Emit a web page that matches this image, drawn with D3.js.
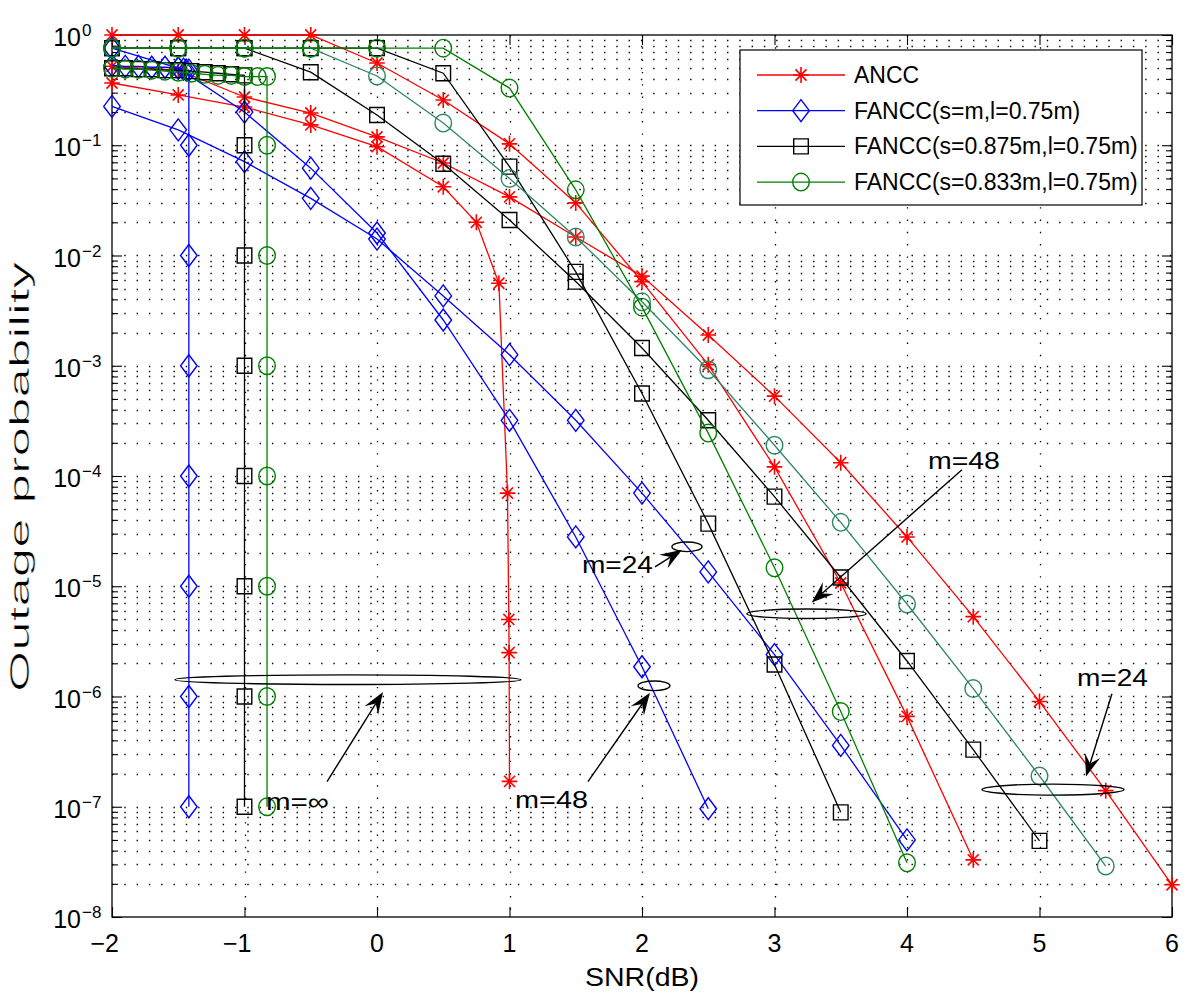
<!DOCTYPE html>
<html><head><meta charset="utf-8">
<script src="https://cdn.jsdelivr.net/npm/d3@7"></script>
<style>
body{margin:0;background:#fff;}
text{font-family:"Liberation Sans",Arial,Helvetica,sans-serif;fill:#000;}
</style>
</head><body>
<svg id="c" width="1200" height="1008"></svg>
<script>
// ---------------- DATA ----------------
const xTickValues = [-2,-1,0,1,2,3,4,5,6];
const xTickLabels = ["\u22122","\u22121","0","1","2","3","4","5","6"];
const yDecadeExps = [0,-1,-2,-3,-4,-5,-6,-7,-8];
const legendNames = ["ANCC","FANCC(s=m,l=0.75m)","FANCC(s=0.875m,l=0.75m)","FANCC(s=0.833m,l=0.75m)"];

// ANCC
const anccInfX = [-2,-1.5,-1,-0.5,0,0.5,0.75,0.92,0.985,0.995,0.997,1.0];
const anccInfY = [0.367,0.286,0.222,0.153,0.097,0.042,0.020,0.0056,7e-5,5e-6,2.5e-6,1.7e-7];
const ancc24X = [-2,-1.5,-1,-0.5,0,0.5,1,1.5,2,2.5,3,3.5,4,4.5,5,5.5,6];
const ancc24Y = [0.52,0.48,0.274,0.196,0.119,0.069,0.034,0.0147,0.0065,0.0019,5.3e-4,1.32e-4,2.8e-5,5.3e-6,9.0e-7,1.4e-7,1.96e-8];
const ancc48X = [-2,-1.5,-1,-0.5,0,0.5,1,1.5,2,2.5,3,3.5,4,4.5];
const ancc48Y = [1,1,1,1,0.557,0.257,0.103,0.030,0.0058,1.02e-3,1.21e-4,1.07e-5,6.6e-7,3.3e-8];

// FANCC(s=m,l=0.75m)
const fmInfX = [-2,-1.9,-1.8,-1.7,-1.6,-1.5,-1.46,-1.44,-1.42,-1.42,-1.42,-1.42,-1.42,-1.42,-1.42,-1.42];
const fmInfY = [0.53,0.52,0.52,0.51,0.51,0.50,0.49,0.48,0.48,0.1,0.01,1e-3,1e-4,1e-5,1e-6,1e-7];
const fm24X = [-2,-1.5,-1,-0.5,0,0.5,1,1.5,2,2.5,3,3.5,4];
const fm24Y = [0.225,0.138,0.071,0.033,0.0141,0.0043,1.26e-3,3.2e-4,7.0e-5,1.35e-5,2.4e-6,3.6e-7,5.0e-8];
const fm48X = [-2,-1.5,-1,-0.5,0,0.5,1,1.5,2,2.5];
const fm48Y = [0.76,0.50,0.20,0.062,0.016,0.0026,3.2e-4,2.8e-5,1.86e-6,9.6e-8];

// FANCC(s=0.875m,l=0.75m)
const f875InfX = [-2,-1.9,-1.8,-1.7,-1.6,-1.5,-1.4,-1.3,-1.2,-1.1,-1,-1,-1,-1,-1,-1,-1,-1];
const f875InfY = [0.50,0.50,0.49,0.49,0.48,0.48,0.47,0.46,0.45,0.44,0.43,0.1,0.01,1e-3,1e-4,1e-5,1e-6,1e-7];
const f875_24X = [-2,-1.5,-1,-0.5,0,0.5,1,1.5,2,2.5,3,3.5,4,4.5,5];
const f875_24Y = [0.76,0.76,0.76,0.46,0.188,0.068,0.021,0.0058,1.45e-3,3.2e-4,6.5e-5,1.2e-5,2.1e-6,3.3e-7,4.9e-8];
const f875_48X = [-2,-1.5,-1,-0.5,0,0.5,1,1.5,2,2.5,3,3.5];
const f875_48Y = [0.76,0.76,0.76,0.76,0.76,0.45,0.064,0.0071,5.6e-4,3.7e-5,1.95e-6,8.9e-8];

// FANCC(s=0.833m,l=0.75m)
const f833InfX = [-2,-1.9,-1.8,-1.7,-1.6,-1.5,-1.4,-1.3,-1.2,-1.1,-1,-0.9,-0.83,-0.83,-0.83,-0.83,-0.83,-0.83,-0.83,-0.83];
const f833InfY = [0.50,0.49,0.49,0.48,0.47,0.46,0.45,0.44,0.43,0.43,0.42,0.42,0.42,0.1,0.01,1e-3,1e-4,1e-5,1e-6,1e-7];
const f833_24X = [-2,-1.5,-1,-0.5,0,0.5,1,1.5,2,2.5,3,3.5,4,4.5,5,5.5];
const f833_24Y = [0.76,0.76,0.76,0.76,0.425,0.159,0.050,0.0147,3.8e-3,9.2e-4,1.9e-4,3.8e-5,6.9e-6,1.18e-6,1.9e-7,2.9e-8];
const f833_48X = [-2,-1.5,-1,-0.5,0,0.5,1,1.5,2,2.5,3,3.5,4];
const f833_48Y = [0.76,0.76,0.76,0.76,0.76,0.76,0.33,0.0394,3.4e-3,2.45e-4,1.47e-5,7.3e-7,3.1e-8];

// annotations (data coordinates)
const annEllipseX0 = [-1.525, 2.226, 1.970, 2.792, 4.566];
const annEllipseX1 = [1.087, 2.453, 2.211, 3.691, 5.638];
const annEllipseY  = [1.42e-6, 2.28e-5, 1.25e-6, 5.63e-6, 1.43e-7];
const annArrowTail = [[-0.377,1.69e-7],[2.098,1.50e-5],[1.592,1.69e-7],[4.415,1.14e-4],[5.547,1.06e-6]];
const annArrowHead = [[0.045,1.10e-6],[2.302,2.14e-5],[2.060,1.08e-6],[3.281,7.13e-6],[5.351,1.88e-7]];
const annTexts = ["m=\u221e","m=24","m=48","m=48","m=24"];
const annTextPos = [[-0.838,9.4e-8],[1.547,1.32e-5],[1.042,9.8e-8],[4.158,1.16e-4],[5.283,1.25e-6]];

// ---------------- CHART ----------------
const L=112, R=1172, T=35, B=917;
const x = d3.scaleLinear().domain([-2,6]).range([L,R]);
const y = d3.scaleLog().domain([1e-8,1]).range([B,T]);
const svg = d3.select("#c");

const minorVals = [];
yDecadeExps.forEach(e=>{ if(e>-8){ for(let k=2;k<=9;k++) minorVals.push(k*Math.pow(10,e-1)); }});
const decadeVals = yDecadeExps.map(e=>Math.pow(10,e));

// grid
const grid = svg.append("g");
grid.selectAll("line.h").data(minorVals.concat(decadeVals.filter(v=>v<1 && v>1e-8))).join("line")
  .attr("x1",L).attr("x2",R).attr("y1",d=>Math.round(y(d))+0.5).attr("y2",d=>Math.round(y(d))+0.5)
  .attr("stroke","#000").attr("stroke-width",1.3).attr("stroke-dasharray","1.4,10.9");
grid.selectAll("line.v").data(xTickValues.filter(v=>v>-2&&v<6)).join("line")
  .attr("y1",T).attr("y2",B).attr("x1",d=>Math.round(x(d))+0.5).attr("x2",d=>Math.round(x(d))+0.5)
  .attr("stroke","#000").attr("stroke-width",1.3).attr("stroke-dasharray","1.4,10.9");

// axes ticks
function styleAxis(g){ g.select(".domain").remove(); g.selectAll(".tick line").attr("stroke","#000").attr("stroke-width",1.1); g.selectAll(".tick text").remove(); }
svg.append("g").attr("transform",`translate(${L},0)`).call(d3.axisLeft(y).tickValues(decadeVals).tickSize(-10).tickSizeOuter(0)).call(styleAxis);
svg.append("g").attr("transform",`translate(${L},0)`).call(d3.axisLeft(y).tickValues(minorVals).tickSize(-6).tickSizeOuter(0)).call(styleAxis);
svg.append("g").attr("transform",`translate(${R},0)`).call(d3.axisRight(y).tickValues(decadeVals).tickSize(-10).tickSizeOuter(0)).call(styleAxis);
svg.append("g").attr("transform",`translate(${R},0)`).call(d3.axisRight(y).tickValues(minorVals).tickSize(-6).tickSizeOuter(0)).call(styleAxis);
svg.append("g").attr("transform",`translate(0,${B})`).call(d3.axisBottom(x).tickValues(xTickValues).tickSize(-10).tickSizeOuter(0)).call(styleAxis);
svg.append("g").attr("transform",`translate(0,${T})`).call(d3.axisTop(x).tickValues(xTickValues).tickSize(-10).tickSizeOuter(0)).call(styleAxis);

// frame
svg.append("rect").attr("x",L).attr("y",T).attr("width",R-L).attr("height",B-T)
  .attr("fill","none").attr("stroke","#000").attr("stroke-width",1.3);

// tick labels
const yl = svg.append("g");
yDecadeExps.forEach(e=>{
  const ty = y(Math.pow(10,e));
  yl.append("text").attr("x",81).attr("y",ty+11).attr("text-anchor","end").attr("font-size",25).text("10");
  yl.append("text").attr("x",82).attr("y",ty+1).attr("font-size",17).text(e===0?"0":"\u2212"+(-e));
});
xTickValues.forEach((v,i)=>{
  svg.append("text").attr("x",x(v)+7).attr("y",B+35).attr("text-anchor","end").attr("font-size",25).text(xTickLabels[i]);
});
svg.append("text").attr("x",x(2)).attr("y",986).attr("text-anchor","middle").attr("font-size",26)
  .attr("textLength",114).attr("lengthAdjust","spacingAndGlyphs").text("SNR(dB)");
svg.append("text").attr("transform","translate(29,477) rotate(-90)").attr("text-anchor","middle").attr("font-size",27)
  .attr("textLength",430).attr("lengthAdjust","spacingAndGlyphs")
  .attr("stroke","#fff").attr("stroke-width",0.55)
  .text("Outage probability");

// markers
const markerPath = {
  star: "M0,-8V8M-7.8,0H7.8M-5.5,-5.6L5.5,5.6M-5.5,5.6L5.5,-5.6",
  diamond: "M0,-11L8.3,0L0,11L-8.3,0Z",
  square: "M-7.3,-7.5H7.3V7.5H-7.3Z",
  circle: "M-8.3,0A8.3,8.8 0 1,0 8.3,0A8.3,8.8 0 1,0 -8.3,0Z"
};
const RED="#ff0000", BLUE="#0000ff", BLACK="#000000", GREEN="#008000", TEAL="#2e8764";
const series = [
  {xs:anccInfX, ys:anccInfY, c:RED, m:"star"},
  {xs:ancc24X, ys:ancc24Y, c:RED, m:"star"},
  {xs:ancc48X, ys:ancc48Y, c:RED, m:"star"},
  {xs:fmInfX, ys:fmInfY, c:BLUE, m:"diamond"},
  {xs:fm24X, ys:fm24Y, c:BLUE, m:"diamond"},
  {xs:fm48X, ys:fm48Y, c:BLUE, m:"diamond"},
  {xs:f875InfX, ys:f875InfY, c:BLACK, m:"square"},
  {xs:f875_24X, ys:f875_24Y, c:BLACK, m:"square"},
  {xs:f875_48X, ys:f875_48Y, c:BLACK, m:"square"},
  {xs:f833InfX, ys:f833InfY, c:GREEN, m:"circle"},
  {xs:f833_24X, ys:f833_24Y, c:TEAL, m:"circle"},
  {xs:f833_48X, ys:f833_48Y, c:GREEN, m:"circle"}
];
const line = d3.line().x(d=>x(d[0])).y(d=>y(d[1]));
const dataG = svg.append("g");
series.forEach(s=>{
  const pts = s.xs.map((v,i)=>[v,s.ys[i]]);
  const g = dataG.append("g");
  g.append("path").attr("d",line(pts)).attr("fill","none").attr("stroke",s.c).attr("stroke-width",1.3);
  g.selectAll("path.mk").data(pts).join("path").attr("class","mk")
    .attr("transform",d=>`translate(${x(d[0])},${y(d[1])})`)
    .attr("d",markerPath[s.m]).attr("fill","none").attr("stroke",s.c).attr("stroke-width",s.m==="star"?1.6:1.4);
});

// annotations
const ann = svg.append("g");
annEllipseX0.forEach((x0,i)=>{
  const cx=(x(x0)+x(annEllipseX1[i]))/2, rx=(x(annEllipseX1[i])-x(x0))/2;
  ann.append("ellipse").attr("cx",cx).attr("cy",y(annEllipseY[i])).attr("rx",rx).attr("ry",i===4?5.5:4.8)
    .attr("fill","none").attr("stroke","#000").attr("stroke-width",1.4);
});
annArrowTail.forEach((t,i)=>{
  const x1=x(t[0]), y1=y(t[1]), x2=x(annArrowHead[i][0]), y2=y(annArrowHead[i][1]);
  const dx=x2-x1, dy=y2-y1, len=Math.hypot(dx,dy), ux=dx/len, uy=dy/len, px=-uy, py=ux;
  const Lh=Math.min(22,len*0.8), hw=8, nb=Lh*0.62;
  const bx=x2-ux*Lh, by=y2-uy*Lh, nx=x2-ux*nb, ny=y2-uy*nb;
  ann.append("line").attr("x1",x1).attr("y1",y1).attr("x2",nx).attr("y2",ny).attr("stroke","#000").attr("stroke-width",1.4);
  ann.append("path").attr("d",`M${x2},${y2}L${bx+px*hw},${by+py*hw}L${nx},${ny}L${bx-px*hw},${by-py*hw}Z`).attr("fill","#000");
});
const annLens=[63,71,73,72,71];
annTexts.forEach((t,i)=>{
  ann.append("text").attr("x",x(annTextPos[i][0])).attr("y",y(annTextPos[i][1])).attr("font-size",24)
    .attr("textLength",annLens[i]).attr("lengthAdjust","spacingAndGlyphs").text(t);
});

// legend
const lg = svg.append("g");
lg.append("rect").attr("x",740).attr("y",50).attr("width",402).attr("height",155).attr("fill","#fff").attr("stroke","#000").attr("stroke-width",1.2);
const legColors=[RED,BLUE,BLACK,GREEN], legMarks=["star","diamond","square","circle"];
legendNames.forEach((n,i)=>{
  const ly = 75 + i*35.7;
  lg.append("line").attr("x1",757).attr("x2",845).attr("y1",ly).attr("y2",ly).attr("stroke",legColors[i]).attr("stroke-width",1.3);
  lg.append("path").attr("transform",`translate(801,${ly})`).attr("d",markerPath[legMarks[i]]).attr("fill","none").attr("stroke",legColors[i]).attr("stroke-width",legMarks[i]==="star"?1.6:1.4);
  lg.append("text").attr("x",854).attr("y",ly+8).attr("font-size",23).text(n);
});
</script>
</body></html>
